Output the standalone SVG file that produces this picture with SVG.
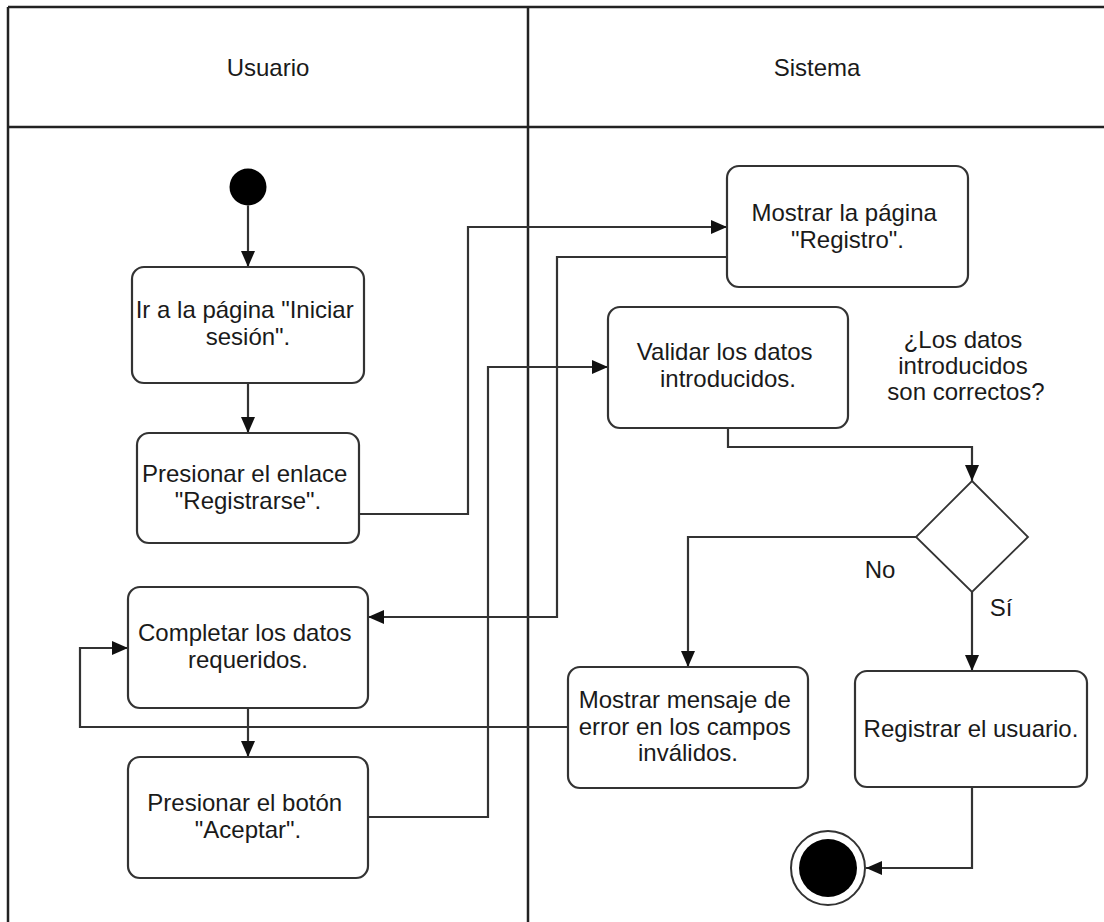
<svg xmlns="http://www.w3.org/2000/svg" width="1104" height="922" viewBox="0 0 1104 922">
  <defs>
    <marker id="arr" markerUnits="userSpaceOnUse" markerWidth="17" markerHeight="15" refX="16" refY="7" orient="auto">
      <path d="M0,0 L16,7 L0,14 z" fill="#111"/>
    </marker>
    <style>
      .lane{fill:none;stroke:#222;stroke-width:2.5}
      .box{fill:#fff;stroke:#333;stroke-width:2.2}
      .t{font-family:"Liberation Sans",Arial,sans-serif;font-size:24px;fill:#1a1a1a;text-anchor:middle}
      .c{fill:none;stroke:#333;stroke-width:2.2;marker-end:url(#arr)}
    </style>
  </defs>
  <rect width="1104" height="922" fill="#fff"/>

  <g id="swimlanes">
    <path class="lane" d="M8,7 H1104 M8,127 H1104 M8,7 V922 M528,7 V922"/>
    <text class="t" x="268" y="76">Usuario</text>
    <text class="t" x="817" y="76">Sistema</text>
  </g>

  <g id="connectors">
    <path class="c" d="M248,205.5 V267"/>
    <path class="c" d="M248,383 V433"/>
    <path class="c" d="M359,514 H468 V227 H727"/>
    <path class="c" d="M727,257 H557 V617 H368"/>
    <path class="c" d="M248,708 V757"/>
    <path class="c" d="M368,817 H488 V367 H608"/>
    <path class="c" d="M728,428 V447 H972 V481"/>
    <path class="c" d="M916,537 H688 V667"/>
    <path class="c" d="M972,592 V671"/>
    <path class="c" d="M568,727 H80 V648 H128"/>
    <path class="c" d="M972,787 V868 H866"/>
  </g>

  <g id="start">
    <circle cx="248" cy="187" r="18.5" fill="#000"/>
  </g>

  <g id="ir-iniciar-sesion">
    <rect class="box" x="132" y="267" width="232" height="116" rx="12"/>
    <text class="t" x="244.7" y="318">Ir a la página "Iniciar</text>
    <text class="t" x="248" y="345">sesión".</text>
  </g>

  <g id="presionar-enlace">
    <rect class="box" x="137" y="433" width="222" height="110" rx="12"/>
    <text class="t" x="244.7" y="482">Presionar el enlace</text>
    <text class="t" x="248" y="509">"Registrarse".</text>
  </g>

  <g id="completar-datos">
    <rect class="box" x="128" y="587" width="240" height="121" rx="12"/>
    <text class="t" x="244.7" y="641">Completar los datos</text>
    <text class="t" x="248" y="668">requeridos.</text>
  </g>

  <g id="presionar-boton">
    <rect class="box" x="128" y="757" width="240" height="121" rx="12"/>
    <text class="t" x="244.7" y="811">Presionar el botón</text>
    <text class="t" x="248" y="838">"Aceptar".</text>
  </g>

  <g id="mostrar-registro">
    <rect class="box" x="727" y="166" width="241" height="121" rx="12"/>
    <text class="t" x="844.2" y="221">Mostrar la página</text>
    <text class="t" x="847.5" y="248">"Registro".</text>
  </g>

  <g id="validar-datos">
    <rect class="box" x="608" y="307" width="240" height="121" rx="12"/>
    <text class="t" x="724.7" y="360">Validar los datos</text>
    <text class="t" x="728" y="387">introducidos.</text>
  </g>

  <g id="pregunta">
    <text class="t" x="963" y="348">¿Los datos</text>
    <text class="t" x="963" y="374">introducidos</text>
    <text class="t" x="966" y="400">son correctos?</text>
  </g>

  <g id="decision">
    <path d="M972,481 L1028,537 L972,592 L916,537 Z" fill="#fff" stroke="#333" stroke-width="1.8"/>
    <text class="t" x="880" y="578">No</text>
    <text class="t" x="1001" y="616">Sí</text>
  </g>

  <g id="mostrar-error">
    <rect class="box" x="568" y="667" width="240" height="121" rx="12"/>
    <text class="t" x="684.7" y="708">Mostrar mensaje de</text>
    <text class="t" x="684.7" y="735">error en los campos</text>
    <text class="t" x="688" y="761">inválidos.</text>
  </g>

  <g id="registrar-usuario">
    <rect class="box" x="855" y="671" width="232" height="116" rx="12"/>
    <text class="t" x="971" y="737">Registrar el usuario.</text>
  </g>

  <g id="end">
    <circle cx="828" cy="868" r="37" fill="#fff" stroke="#333" stroke-width="2"/>
    <circle cx="828" cy="868" r="29" fill="#000"/>
  </g>
</svg>
